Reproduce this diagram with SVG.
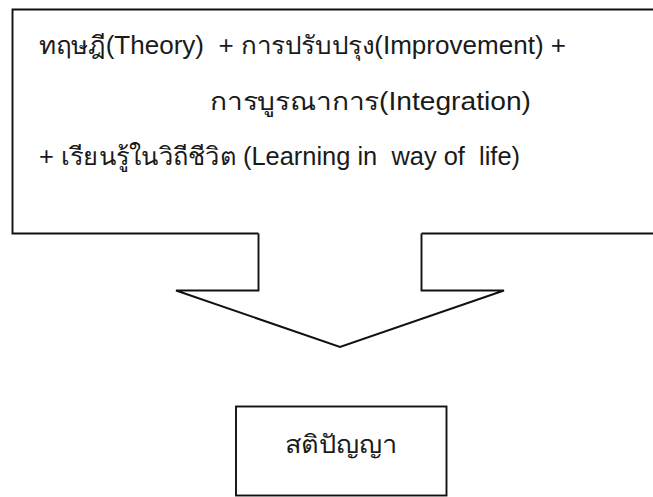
<svg xmlns="http://www.w3.org/2000/svg" width="653" height="497" viewBox="0 0 653 497">
<style>
.ln{fill:none;stroke:#111;stroke-width:1.9;stroke-linejoin:miter}
.t{font-family:"Liberation Sans","Noto Sans",sans-serif;font-size:25px;fill:#1a1a1a;white-space:pre}
</style>
<rect width="653" height="497" fill="#fff"/>
<g id="source-box">
<path class="ln" d="M660 9.5 H12.5 V233.5 H258.5 M421.5 233.5 H660"/>
<text class="t" x="39" y="54" textLength="527" lengthAdjust="spacingAndGlyphs" xml:space="preserve">ทฤษฎี(Theory)  + การปรับปรุง(Improvement) +</text>
<text class="t" x="210" y="110" textLength="321" lengthAdjust="spacingAndGlyphs" xml:space="preserve">การบูรณาการ(Integration)</text>
<text class="t" x="39" y="165" textLength="481" lengthAdjust="spacingAndGlyphs" xml:space="preserve">+ เรียนรู้ในวิถีชีวิต (Learning in  way of  life)</text>
</g>
<g id="connectors">
<path class="ln" style="fill:#fff" d="M258.5 233.5 V290.5 H176 L340 347 L504 290.5 H421.5 V233.5"/>
</g>
<g id="result-box">
<rect class="ln" x="236" y="406.5" width="210.5" height="89"/>
<text class="t" x="285" y="453" textLength="112" lengthAdjust="spacingAndGlyphs">สติปัญญา</text>
</g>
</svg>
